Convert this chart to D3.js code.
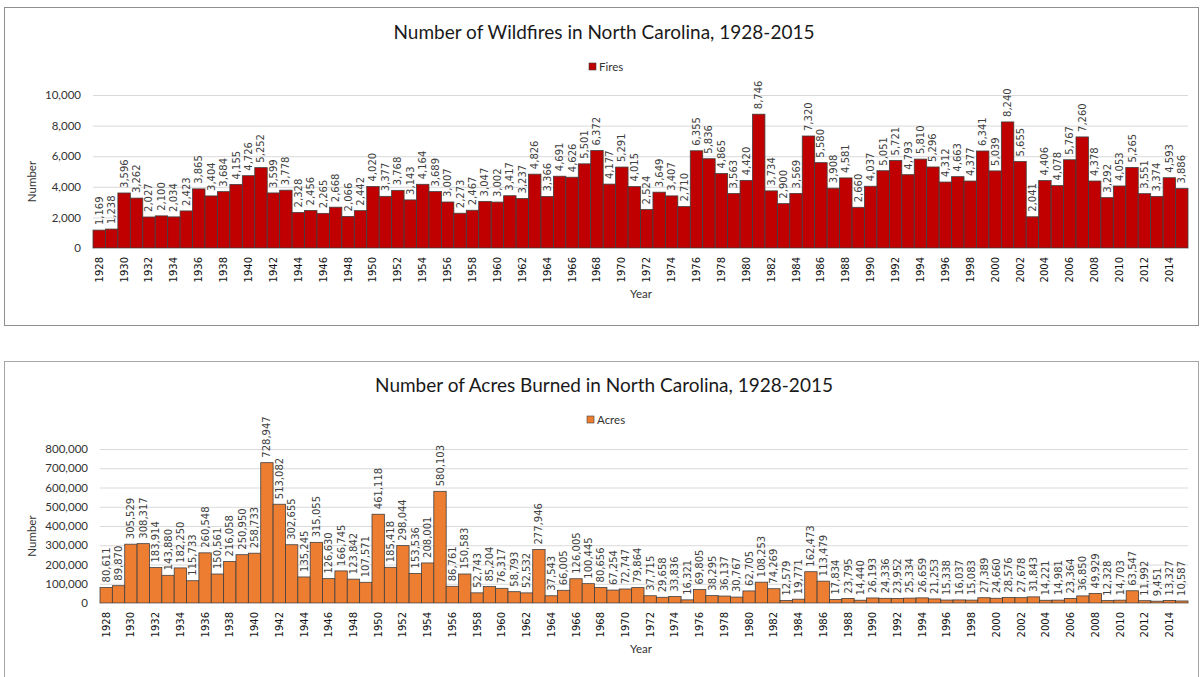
<!DOCTYPE html>
<html>
<head>
<meta charset="utf-8">
<script src="https://cdn.jsdelivr.net/npm/d3@7"></script>
<style>
  body { margin: 0; background: #fff; }
</style>
</head>
<body>
<div id="viz"></div>
<script>
// data, one value per year
const years = d3.range(1928, 2016);

const fires = [1169, 1238, 3596, 3262, 2027, 2100, 2034, 2423, 3865, 3404, 3684, 4155, 4726, 5252, 3599, 3778,
  2328, 2456, 2265, 2668, 2066, 2442, 4020, 3377, 3768, 3143, 4164, 3689, 3007, 2273, 2467, 3047, 3002, 3417,
  3237, 4826, 3366, 4691, 4626, 5501, 6372, 4177, 5291, 4015, 2524, 3649, 3407, 2710, 6355, 5836, 4865, 3563,
  4420, 8746, 3734, 2900, 3569, 7320, 5580, 3908, 4581, 2660, 4037, 5051, 5721, 4793, 5810, 5296, 4312, 4663,
  4377, 6341, 5039, 8240, 5655, 2041, 4406, 4078, 5767, 7260, 4378, 3292, 4053, 5265, 3551, 3374, 4593, 3886];

const acres = [80611, 89870, 305529, 308317, 183914, 143880, 182250, 115733, 260548, 150561, 216058, 250950,
  258733, 728947, 513082, 302655, 135245, 315055, 126630, 166745, 123842, 107571, 461118, 185418, 298044,
  153536, 208001, 580103, 86761, 150583, 52743, 85204, 76317, 58793, 52532, 277946, 37543, 66005, 126005,
  100445, 80656, 67254, 72747, 79864, 37715, 29658, 33836, 16321, 69805, 38295, 36137, 30767, 62705, 108253,
  74269, 12579, 19771, 162473, 113479, 17834, 23795, 14440, 26193, 24336, 23952, 25334, 26659, 21253, 15338,
  16037, 15083, 27389, 24660, 28576, 27678, 31843, 14221, 14981, 23364, 36850, 49929, 12328, 14703, 63547,
  11992, 9451, 13327, 10587];

const fireTicks = [0, 2000, 4000, 6000, 8000, 10000];
const acreTicks = [0, 100000, 200000, 300000, 400000, 500000, 600000, 700000, 800000];
const yearTicks = years.filter(y => y % 2 === 0); // every other year is labelled

const fmt = d3.format(',');

let svg = d3.select('#viz')
  .append('svg')
  .attr('width', 1201)
  .attr('height', 677)
  .style('font-family', 'Lato, sans-serif');

// outer frames of the two chart objects
svg.append('rect')
  .attr('x', 4.5).attr('y', 7.5)
  .attr('width', 1194).attr('height', 318)
  .attr('fill', 'none').attr('stroke', '#8f8f8f');

svg.append('rect')
  .attr('x', 4.5).attr('y', 361.5)
  .attr('width', 1194).attr('height', 340)
  .attr('fill', 'none').attr('stroke', '#a6a6a6');

function drawChart(opt) {
  let g = svg.append('g');

  let x = d3.scaleBand()
    .domain(years)
    .range([opt.left, opt.right])
    .padding(0); // bars touch, like excel gap width 0

  let y = d3.scaleLinear()
    .domain([0, opt.max])
    .range([opt.bottom, opt.top]);

  // title
  g.append('text')
    .attr('x', 604).attr('y', opt.titleY)
    .attr('text-anchor', 'middle')
    .style('font-size', '19px')
    .style('fill', '#1a1a1a')
    .text(opt.title);

  // legend
  g.append('rect')
    .attr('x', opt.legendX).attr('y', opt.legendY - 4)
    .attr('width', 7).attr('height', 7)
    .attr('fill', opt.color).attr('stroke', '#404040').attr('stroke-width', 0.6);
  g.append('text')
    .attr('x', opt.legendX + 10).attr('y', opt.legendY)
    .attr('dy', '0.35em')
    .style('font-size', '11.5px')
    .style('fill', '#333')
    .text(opt.name);

  // gridlines + y labels
  let yAxis = g.append('g')
    .attr('transform', `translate(${opt.left},0)`)
    .call(d3.axisLeft(y).tickValues(opt.ticks).tickSize(-(opt.right - opt.left)).tickFormat(fmt).tickPadding(12));
  yAxis.select('.domain').remove();
  yAxis.selectAll('line').attr('stroke', '#d9d9d9');
  yAxis.selectAll('text')
    .style('font-family', 'Lato, sans-serif')
    .style('font-size', '11.5px')
    .style('fill', '#333');

  // bars
  g.selectAll('.bar')
    .data(opt.values)
    .join('rect')
    .attr('class', 'bar')
    .attr('x', (d, i) => x(years[i]))
    .attr('y', d => y(d))
    .attr('width', x.bandwidth())
    .attr('height', d => opt.bottom - y(d))
    .attr('fill', opt.color)
    .attr('stroke', '#404040')
    .attr('stroke-width', 0.8);

  // value labels, vertical above each bar
  g.selectAll('.val')
    .data(opt.values)
    .join('text')
    .attr('class', 'val')
    .attr('transform', (d, i) => `translate(${x(years[i]) + x.bandwidth() / 2},${y(d) - 5}) rotate(-90)`)
    .attr('dy', '0.35em')
    .attr('text-anchor', 'start')
    .style('font-family', 'DejaVu Sans, sans-serif')
    .style('font-size', '10px')
    .style('fill', '#404040')
    .text(d => fmt(d));

  // x axis
  let xAxis = g.append('g')
    .attr('transform', `translate(0,${opt.bottom})`)
    .call(d3.axisBottom(x).tickValues(yearTicks).tickSize(0).tickPadding(0));
  xAxis.select('.domain').attr('stroke', '#bfbfbf');
  xAxis.selectAll('text')
    .attr('transform', 'rotate(-90)')
    .attr('x', -9)
    .attr('y', 0)
    .attr('dy', '0.35em')
    .attr('text-anchor', 'end')
    .style('font-family', 'DejaVu Sans, sans-serif')
    .style('font-size', '10px')
    .style('fill', '#111');

  // axis titles
  g.append('text')
    .attr('x', 641).attr('y', opt.bottom + 50)
    .attr('text-anchor', 'middle')
    .style('font-size', '11.5px')
    .style('fill', '#333')
    .text('Year');
  g.append('text')
    .attr('transform', `translate(32,${(opt.top + opt.bottom) / 2 + 10}) rotate(-90)`)
    .attr('dy', '0.35em')
    .attr('text-anchor', 'middle')
    .style('font-size', '11.5px')
    .style('fill', '#333')
    .text('Number');
}

drawChart({
  title: 'Number of Wildfires in North Carolina, 1928-2015',
  name: 'Fires', values: fires, ticks: fireTicks, max: 10000,
  color: '#c00000',
  left: 93, right: 1188, top: 95, bottom: 248,
  titleY: 39, legendX: 589, legendY: 67
});

drawChart({
  title: 'Number of Acres Burned in North Carolina, 1928-2015',
  name: 'Acres', values: acres, ticks: acreTicks, max: 800000,
  color: '#ed7d31',
  left: 100, right: 1188, top: 449, bottom: 603,
  titleY: 392, legendX: 587, legendY: 420
});
</script>
</body>
</html>
